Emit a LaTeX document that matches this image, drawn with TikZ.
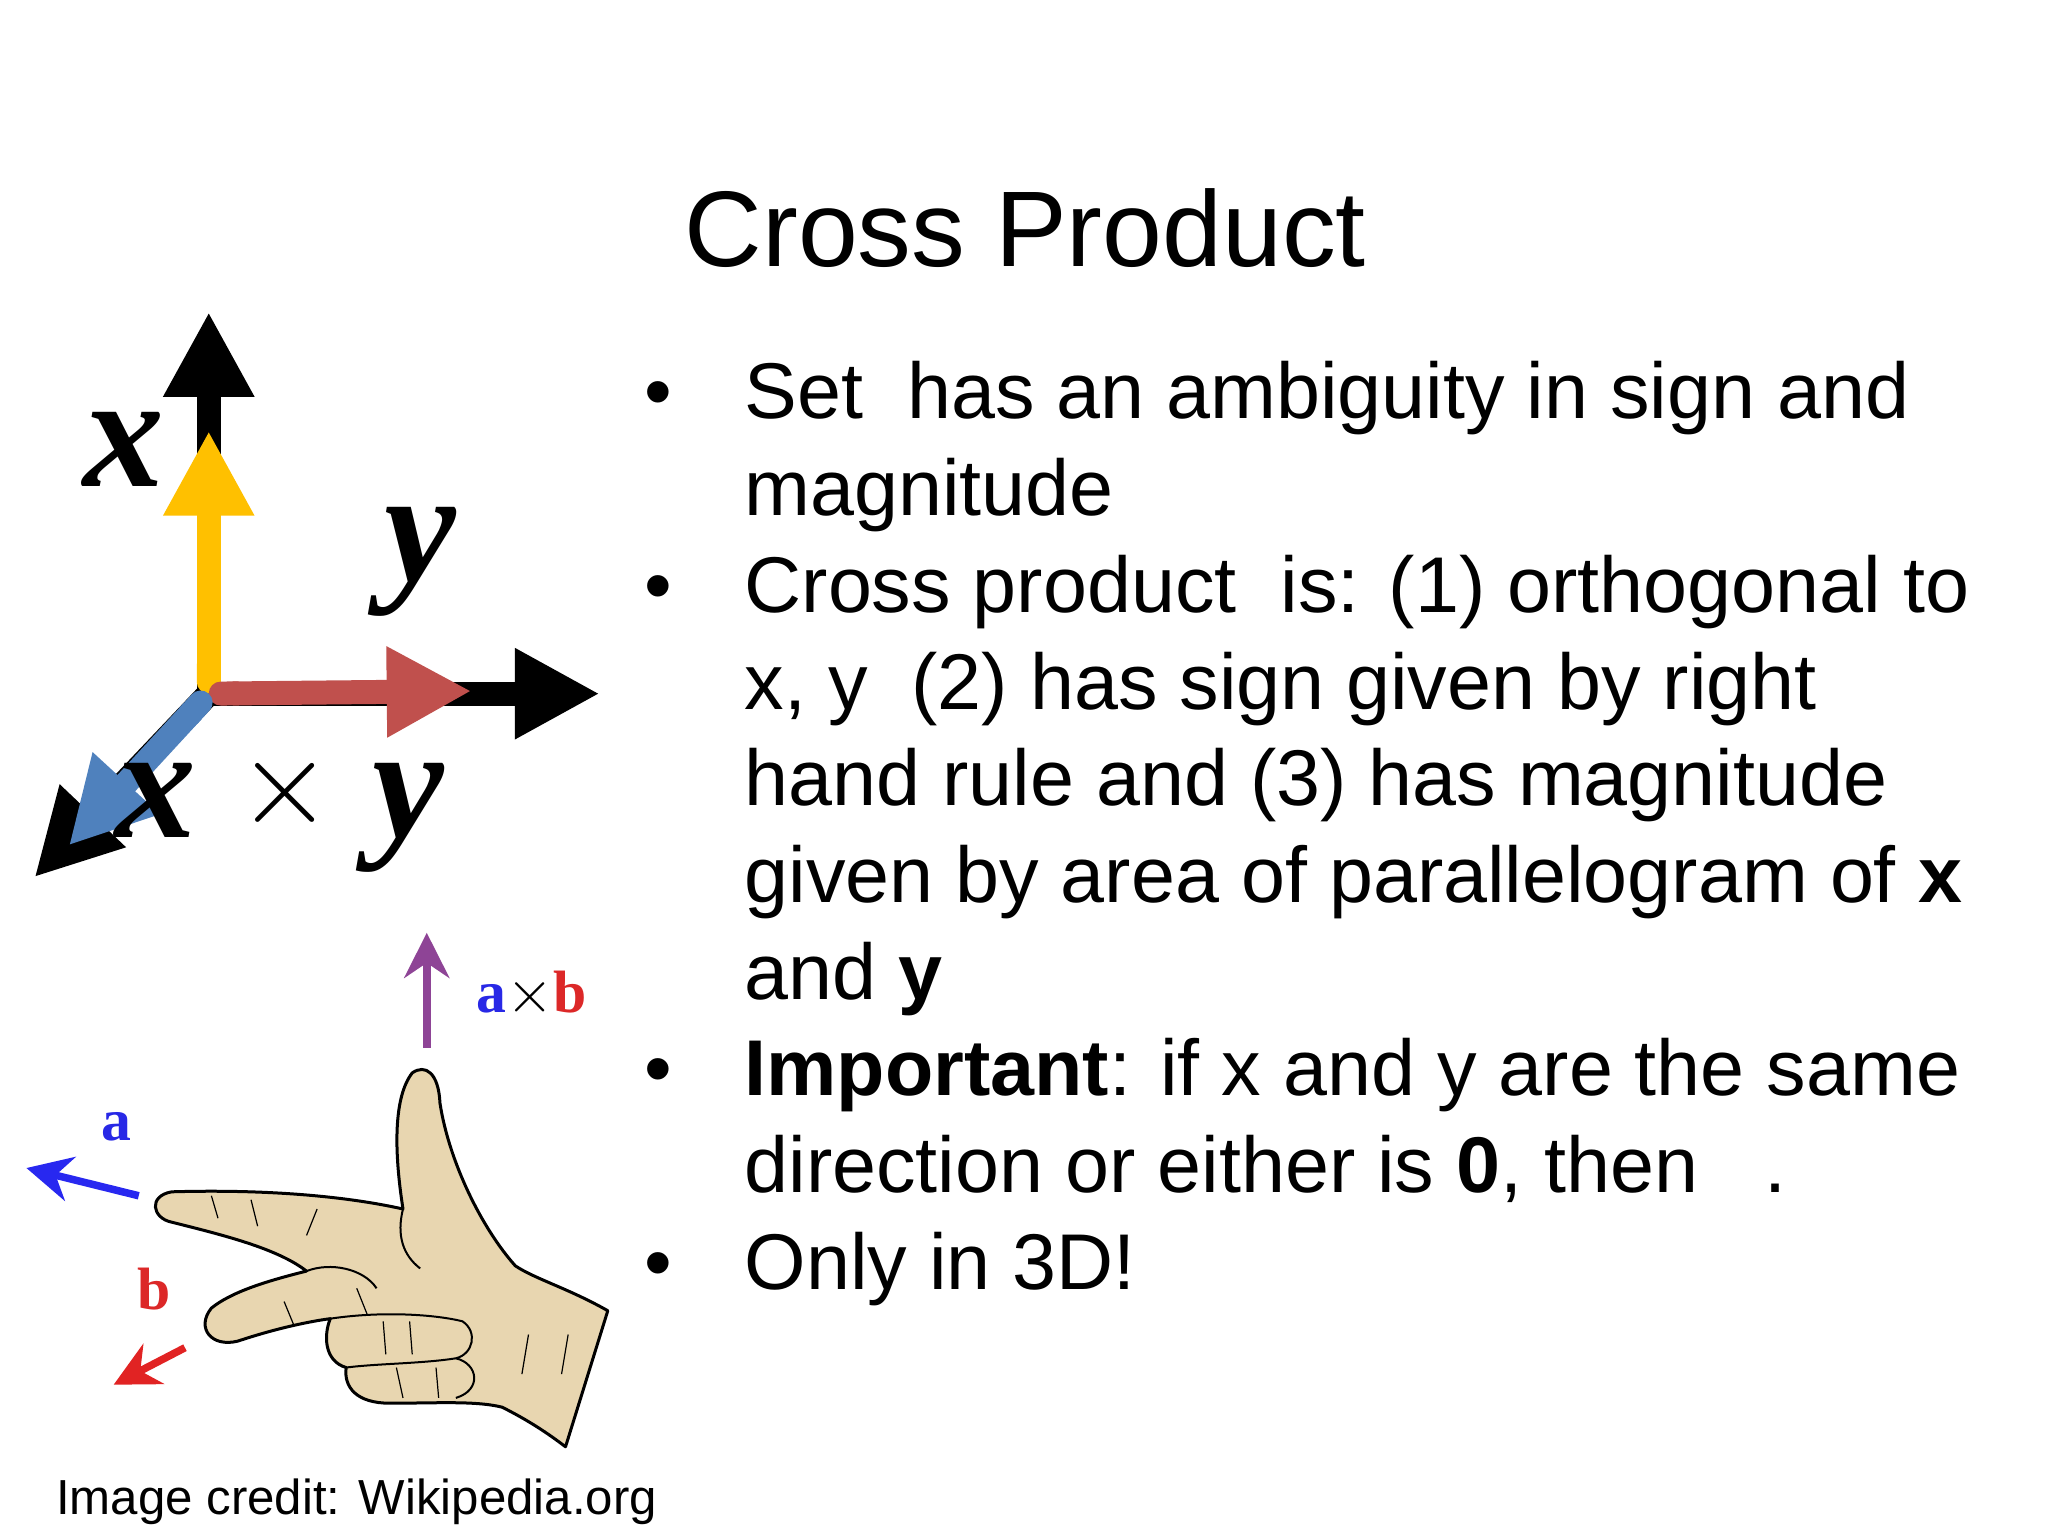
\documentclass[tikz,border=0pt]{standalone}
\usepackage{fontspec}
\setmainfont{Liberation Sans}
\newfontfamily\serifb{Liberation Serif}
\usetikzlibrary{arrows.meta}
\begin{document}
\begin{tikzpicture}[x=0.013213cm,y=-0.013213cm,
  bigarrow/.style={line width=0.24cm,-{Triangle[length=0.85cm,width=0.85cm]}},
  smallarrow/.style={line width=0.075cm,-{Stealth[length=0.45cm,width=0.45cm,inset=0.15cm]}},
  txt/.style={anchor=base west,inner sep=0pt,font=\fontsize{22.5}{27}\selectfont},
  axl/.style={inner sep=0pt,font=\serifb\fontsize{46}{46}\selectfont\bfseries\itshape}]
\useasboundingbox (0,0) rectangle (1550,1162.5);
\fill[white] (0,0) rectangle (1550,1162.5);
% title
\node[anchor=base,inner sep=0pt,font=\fontsize{30.6}{36}\selectfont] (title) at (776,202) {Cross Product};
% bullets text
\foreach \t [count=\i] in {{Set\ \ has an ambiguity in sign and},{magnitude},{Cross product\ \ is: (1) orthogonal to},{x, y\ \ (2) has sign given by right},{hand rule and (3) has magnitude},{given by area of parallelogram of \textbf{x}},{and \textbf{y}},{\textbf{Important}: if x and y are the same},{direction or either is \textbf{0}, then\ \ \ .},{Only in 3D!}}{
  \node[txt] (l\i) at (563,{317+(\i-1)*73.2}) {\t};
}
\foreach \i in {1,3,8,10}{
  \node[txt] (b\i) at (487,{317+(\i-1)*73.2}) {•};
}
% axes
\coordinate (o) at (158,525);
\coordinate (xt) at (158,236);
\coordinate (yt) at (454,525);
\coordinate (zt) at (26,664);
\draw[bigarrow,black] (o) -- (xt);
\draw[bigarrow,black] (o) -- (yt);
\draw[bigarrow,black,line cap=round] (o) -- (zt);
\draw[bigarrow,{Round Cap}-{Triangle[length=0.85cm,width=0.85cm]},color={rgb,255:red,255;green,192;blue,0}] (o) -- (158,326);
\draw[bigarrow,{Round Cap}-{Triangle[length=0.85cm,width=0.85cm]},color={rgb,255:red,192;green,80;blue,77}] (o) -- (357,523);
\draw[bigarrow,{Round Cap}-{Triangle[length=0.85cm,width=0.85cm]},color={rgb,255:red,79;green,129;blue,189}] (o) -- (52,640);
\node[axl] (xl) at (94,340) {x};
\node[axl] (yl) at (318,425) {y};
\node[axl] (xyl) at (212,615) {x \raisebox{4pt}{\scalebox{1.4}{\normalfont$\times$}} y};
% hand
\draw[fill={rgb,255:red,232;green,214;blue,176},line width=0.03cm,line join=round]
 (460,992) .. controls (430,975) and (405,968) .. (390,958)
 .. controls (365,930) and (340,880) .. (333,835)
 .. controls (332,812) and (322,805) .. (312,812)
 .. controls (298,830) and (298,870) .. (305,915)
 .. controls (260,905) and (200,900) .. (130,902)
 .. controls (112,905) and (115,922) .. (130,925)
 .. controls (170,935) and (210,945) .. (232,962)
 .. controls (200,970) and (175,978) .. (160,990)
 .. controls (148,1005) and (160,1020) .. (180,1015)
 .. controls (210,1005) and (235,1000) .. (250,998)
 .. controls (245,1010) and (245,1030) .. (262,1035)
 .. controls (260,1050) and (270,1062) .. (295,1062)
 .. controls (330,1062) and (360,1060) .. (380,1065)
 .. controls (400,1075) and (415,1085) .. (428,1095)
 -- cycle;
\draw[line width=0.02cm] (250,998) .. controls (290,992) and (330,995) .. (350,1000) .. controls (362,1008) and (358,1025) .. (345,1028) .. controls (320,1032) and (285,1032) .. (262,1035);
\draw[line width=0.02cm] (345,1028) .. controls (362,1032) and (365,1052) .. (345,1058);
\draw[line width=0.02cm] (232,962) .. controls (250,955) and (275,960) .. (285,975);
\draw[line width=0.02cm] (305,915) .. controls (300,935) and (305,950) .. (318,960);
\foreach \a/\b/\c/\d in {160/905/165/922, 190/908/195/928, 240/915/232/935, 270/975/278/995, 215/985/222/1002, 290/1000/292/1025, 310/1000/312/1025, 300/1035/305/1058, 330/1035/332/1058, 400/1010/395/1040, 430/1010/425/1040}
  \draw[line width=0.012cm] (\a,\b) -- (\c,\d);
% small arrows
\coordinate (ps) at (323,793); \coordinate (pe) at (323,706);
\draw[smallarrow,color={rgb,255:red,142;green,68;blue,150}] (ps) -- (pe);
\node[anchor=base west,inner sep=0pt,font=\serifb\fontsize{17}{17}\selectfont\bfseries] (axb) at (360,766) {\textcolor[RGB]{40,40,230}{a}$\times$\textcolor[RGB]{220,40,40}{b}};
\coordinate (as) at (105,905); \coordinate (ae) at (20,884);
\draw[smallarrow,color={rgb,255:red,40;green,40;blue,240}] (as) -- (ae);
\node[anchor=base,inner sep=0pt,font=\serifb\fontsize{17}{17}\selectfont\bfseries,text={rgb,255:red,40;green,40;blue,230}] (al) at (88,863) {a};
\coordinate (bs) at (140,1020); \coordinate (be) at (86,1048);
\draw[smallarrow,color={rgb,255:red,225;green,35;blue,35}] (bs) -- (be);
\node[anchor=base,inner sep=0pt,font=\serifb\fontsize{17}{17}\selectfont\bfseries,text={rgb,255:red,220;green,40;blue,40}] (bl) at (117,991) {b};
% credit
\node[anchor=base west,inner sep=0pt,font=\fontsize{14}{17}\selectfont] (cr) at (42,1146) {Image credit: Wikipedia.org};
\end{tikzpicture}
\end{document}
